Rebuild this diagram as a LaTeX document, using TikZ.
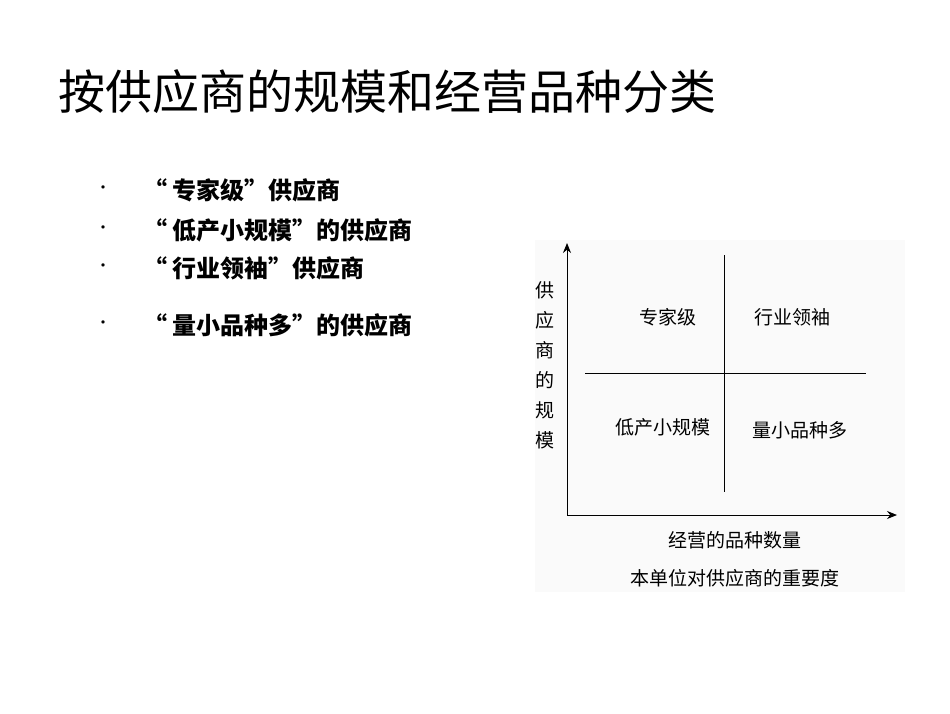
\documentclass[tikz,border=0pt]{standalone}
\usepackage{fontspec}
\setmainfont{Noto Sans CJK SC}
\usetikzlibrary{arrows.meta}
\begin{document}
\begin{tikzpicture}[x=1pt,y=-1pt,
  ln/.style={line width=1pt,black},
  lab/.style={font=\fontsize{19}{21}\selectfont,inner sep=0pt},
  bul/.style={font=\fontsize{24}{26}\selectfont\bfseries,anchor=west,inner sep=0pt}]
\useasboundingbox (0,0) rectangle (950,713);
\fill[white] (0,0) rectangle (950,713);
\fill[black!2] (535,240) rectangle (905,592);
\node[anchor=west,inner sep=0pt,font=\fontsize{47}{52}\selectfont] (title) at (58,92) {按供应商的规模和经营品种分类};
\foreach \y/\t [count=\i] in {190/“ 专家级”供应商,230/“ 低产小规模”的供应商,268/“ 行业领袖”供应商,325/“ 量小品种多”的供应商}{
  \node[bul,font=\fontsize{16}{18}\selectfont] (d\i) at (95,\y) {•};
  \node[bul] (b\i) at (143,\y) {\t};
}
\coordinate (o) at (567,515);
\coordinate (ytop) at (567,243);
\coordinate (xend) at (897,515);
\draw[ln,-{Stealth[length=10pt,width=8pt]}] (o) -- (ytop);
\draw[ln,-{Stealth[length=10pt,width=8pt]}] (o) -- (xend);
\coordinate (v1) at (724,255); \coordinate (v2) at (724,492);
\coordinate (h1) at (585,373); \coordinate (h2) at (866,373);
\draw[line width=0.8pt] (v1) -- (v2);
\draw[line width=0.8pt] (h1) -- (h2);
\node[lab] (q1) at (668,317) {专家级};
\node[lab] (q2) at (792,317) {行业领袖};
\node[lab] (q3) at (663,427) {低产小规模};
\node[lab] (q4) at (800,430) {量小品种多};
\node[lab,align=center,font=\fontsize{19}{30}\selectfont] (yl) at (545,365) {供\\应\\商\\的\\规\\模};
\node[lab] (xl1) at (735,540) {经营的品种数量};
\node[lab] (xl2) at (735,578) {本单位对供应商的重要度};
\end{tikzpicture}
\end{document}
